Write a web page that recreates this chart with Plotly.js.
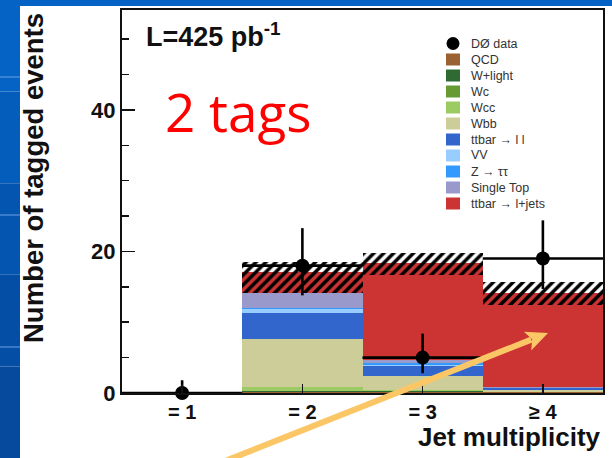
<!DOCTYPE html>
<html>
<head>
<meta charset="utf-8">
<script src="https://cdn.plot.ly/plotly-3.0.1.min.js"></script>
<style>html,body{margin:0;padding:0;background:#fff;}#chart{width:612px;height:458px;}</style>
</head>
<body>
<div id="chart"></div>
<script>
// ---- data ----
const categories = ['= 1', '= 2', '= 3', '\u2265 4'];
const jetBins = [1, 2, 3, 4];

const qcd       = [0, 0.15, 0.20, 0.10];
const wLight    = [0, 0.10, 0.05, 0.00];
const wc        = [0, 0.10, 0.05, 0.00];
const wcc       = [0, 0.55, 0.10, 0.05];
const wbb       = [0, 6.75, 2.00, 0.30];
const ttLL      = [0, 3.70, 1.40, 0.20];
const vv        = [0, 0.55, 0.20, 0.05];
const zTauTau   = [0, 0.10, 0.20, 0.05];
const singleTop = [0, 2.10, 0.50, 0.15];
const ttLJets   = [0, 2.95, 13.70, 13.30];

const bandLow  = [0, 14.1, 16.7, 12.4];
const bandHigh = [0, 18.5, 19.8, 15.7];

const dataY       = [0, 18, 5, 19];
const dataErrUp   = [1.8, 5.3, 3.4, 5.4];
const dataErrDown = [0, 4.2, 2.2, 4.3];

const seriesNames  = ['QCD', 'W+light', 'Wc', 'Wcc', 'Wbb', 'ttbar \u2192 l l', 'VV', 'Z \u2192 \u03c4\u03c4', 'Single Top', 'ttbar \u2192 l+jets'];
const seriesValues = [qcd, wLight, wc, wcc, wbb, ttLL, vv, zTauTau, singleTop, ttLJets];
const dataName = 'D\u00d8 data';

// ---- styles ----
const seriesColors = ['#9a6232', '#2f6a33', '#679a32', '#9ccb64', '#cdcd9a', '#3366cc', '#99ccff', '#3399ff', '#9999cc', '#cc3333'];
const FONT = 'Liberation Sans, Arial, Helvetica, sans-serif';

// plot area in pixels
const L = 122, R = 603, T = 10, B = 393;
const px = x => (x - L) / (R - L);
const py = y => (B - y) / (B - T);

const traces = [];
seriesValues.forEach((vals, i) => {
  traces.push({
    type: 'bar', x: jetBins, y: vals, width: 1, name: seriesNames[i],
    marker: {color: seriesColors[i], line: {width: 0}},
    hoverinfo: 'skip', showlegend: false
  });
});

traces.push({
  type: 'bar', x: jetBins, base: bandLow,
  y: bandHigh.map((h, i) => h - bandLow[i]), width: 1,
  xaxis: 'x2', yaxis: 'y2', showlegend: false, hoverinfo: 'skip',
  marker: {color: 'rgba(0,0,0,0)', line: {width: 0},
           pattern: {shape: '/', fgcolor: '#000', bgcolor: 'rgba(0,0,0,0)', size: 7, solidity: 0.5, fillmode: 'replace'}}
});

traces.push({
  type: 'scatter', mode: 'markers', x: jetBins, y: dataY, name: dataName,
  xaxis: 'x2', yaxis: 'y2', cliponaxis: false, showlegend: false,
  marker: {color: '#000', size: 14},
  error_y: {type: 'data', symmetric: false, array: dataErrUp, arrayminus: dataErrDown, color: '#000', thickness: 2.6, width: 0},
  error_x: {type: 'constant', value: 0.5, color: '#000', thickness: 2.6, width: 0}
});

// ---- background slide & legend shapes ----
const shapes = [];
const annotations = [];
const stripCols = ['#0563c6', '#045cbb', '#0455b0', '#044fa5', '#054a9c'];
for (let k = 0; k < stripCols.length; k++) {
  const y0 = k * 458 / stripCols.length, y1 = (k + 1) * 458 / stripCols.length;
  shapes.push({type: 'rect', xref: 'paper', yref: 'paper', x0: px(0), x1: px(20), y0: py(y1), y1: py(y0),
               fillcolor: stripCols[k], line: {width: 0}, layer: 'below'});
}
shapes.push({type: 'rect', xref: 'paper', yref: 'paper', x0: px(0), x1: px(612), y0: py(6), y1: py(0),
             fillcolor: '#0563c6', line: {width: 0}, layer: 'below'});
[77, 215, 347].forEach(yl => {
  shapes.push({type: 'line', xref: 'paper', yref: 'paper', x0: px(0), x1: px(20), y0: py(yl), y1: py(yl),
               line: {color: 'rgba(120,170,235,0.6)', width: 1.5}, layer: 'below'});
});

// legend (built from the series arrays)
const legX = 453, legY0 = 43.5, legDy = 16;
shapes.push({type: 'circle', xref: 'paper', yref: 'paper', x0: px(legX - 6.5), x1: px(legX + 6.5),
             y0: py(legY0 + 6.5), y1: py(legY0 - 6.5), fillcolor: '#000', line: {width: 0}});
annotations.push({xref: 'paper', yref: 'paper', x: px(469), y: py(legY0), xanchor: 'left', yanchor: 'middle',
                  text: dataName, showarrow: false, font: {family: FONT, size: 12.5, color: '#333'}});
seriesNames.forEach((nm, i) => {
  const yc = legY0 + legDy * (i + 1);
  shapes.push({type: 'rect', xref: 'paper', yref: 'paper', x0: px(legX - 7), x1: px(legX + 7),
               y0: py(yc + 6), y1: py(yc - 6), fillcolor: seriesColors[i], line: {width: 0}});
  annotations.push({xref: 'paper', yref: 'paper', x: px(469), y: py(yc), xanchor: 'left', yanchor: 'middle',
                    text: nm, showarrow: false, font: {family: FONT, size: 12.5, color: '#333'}});
});

// orange pointer arrow drawn on top of the plot
const tip = [548, 333], tail = [215, 465];
const dx = tip[0] - tail[0], dy = tip[1] - tail[1], len = Math.hypot(dx, dy);
const ux = dx / len, uy = dy / len, nx = -uy, ny = ux;
const headLen = 22, headHalf = 10;
const bx = tip[0] - headLen * ux, by = tip[1] - headLen * uy;
const arrowCol = '#fbc766';
shapes.push({type: 'line', xref: 'paper', yref: 'paper', x0: px(tail[0]), y0: py(tail[1]),
             x1: px(bx + 4 * ux), y1: py(by + 4 * uy), line: {color: arrowCol, width: 6}, layer: 'above'});
const hp = [[tip[0], tip[1]], [bx + headHalf * nx, by + headHalf * ny], [bx + 5 * ux, by + 5 * uy], [bx - headHalf * nx, by - headHalf * ny]];
shapes.push({type: 'path', xref: 'paper', yref: 'paper', layer: 'above',
             path: 'M' + hp.map(p => px(p[0]) + ',' + py(p[1])).join('L') + 'Z',
             fillcolor: arrowCol, line: {width: 0}});

annotations.push({xref: 'paper', yref: 'paper', x: px(144), y: py(16), xanchor: 'left', yanchor: 'top',
  text: 'L=425 pb<sup>-1</sup>', showarrow: false, font: {family: FONT, size: 27, weight: 700, color: '#111'}});
annotations.push({xref: 'paper', yref: 'paper', x: px(163), y: py(111), xanchor: 'left', yanchor: 'middle',
  text: '2 tags', showarrow: false, font: {family: 'Open Sans, Noto Sans, sans-serif', size: 53, color: '#ff0000'}});
annotations.push({xref: 'paper', yref: 'paper', x: px(33), y: py(178), xanchor: 'center', yanchor: 'middle',
  textangle: -90, text: 'Number of tagged events', showarrow: false,
  font: {family: FONT, size: 27.5, weight: 700, color: '#111'}});
annotations.push({xref: 'paper', yref: 'paper', x: px(603), y: py(437), xanchor: 'right', yanchor: 'middle',
  text: 'Jet multiplicity', showarrow: false, font: {family: FONT, size: 26, weight: 700, color: '#111'}});

const axFont = {family: FONT, size: 20, weight: 700, color: '#111'};
const layout = {
  width: 612, height: 458,
  margin: {l: L, r: 612 - R, t: T, b: 458 - B, pad: 0},
  paper_bgcolor: '#ffffff', plot_bgcolor: '#ffffff',
  barmode: 'stack', bargap: 0, showlegend: false,
  xaxis: {range: [0.5, 4.5], tickmode: 'array', tickvals: jetBins, ticktext: categories,
          ticks: 'inside', ticklen: 9, tickwidth: 1.5, tickcolor: '#111',
          showline: true, mirror: true, linecolor: '#111', linewidth: 2,
          showgrid: false, zeroline: false, tickfont: axFont, ticklabelstandoff: 0},
  yaxis: {range: [0, 54.13], tickmode: 'linear', tick0: 0, dtick: 20,
          ticks: 'inside', ticklen: 13, tickwidth: 1.5, tickcolor: '#111',
          minor: {tickmode: 'linear', tick0: 0, dtick: 5, ticks: 'inside', ticklen: 7, tickwidth: 1.5, tickcolor: '#111', showgrid: false},
          showline: true, mirror: true, linecolor: '#111', linewidth: 2,
          showgrid: false, zeroline: false, tickfont: Object.assign({}, axFont, {size: 22}), ticklabelstandoff: 0},
  xaxis2: {overlaying: 'x', range: [0.5, 4.5], visible: false},
  yaxis2: {overlaying: 'y', range: [0, 54.13], visible: false},
  shapes: shapes, annotations: annotations
};

Plotly.newPlot('chart', traces, layout, {staticPlot: true, displayModeBar: false});
</script>
</body>
</html>
